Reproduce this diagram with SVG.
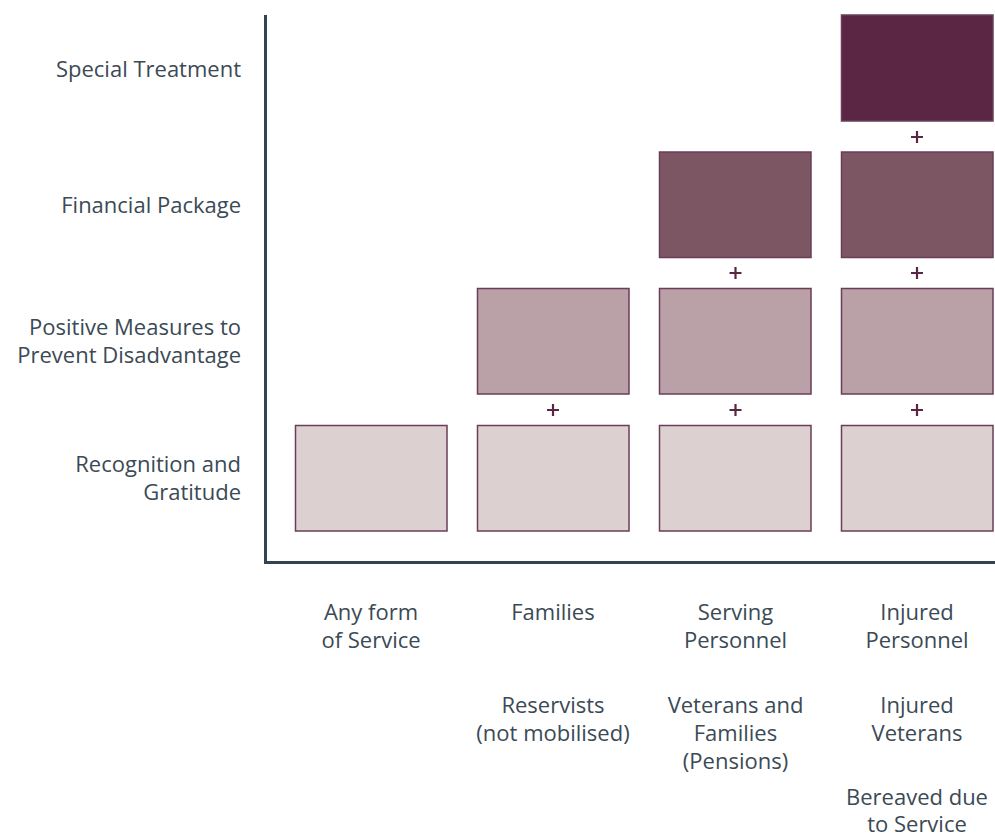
<svg xmlns="http://www.w3.org/2000/svg" width="995" height="835" viewBox="0 0 995 835">
<style>
.t{font-family:"Open Sans","Noto Sans","Liberation Sans",sans-serif;font-size:22px;fill:#3b4a55}
.l{text-anchor:end}
.c{text-anchor:middle}
.b{stroke:#6b3d58;stroke-width:1.5}
.r1{fill:#dcd0d1}
.r2{fill:#b9a1a7}
.r3{fill:#7c5763}
.r4{fill:#5a2643}
.p{stroke:#5a2643;stroke-width:2.2;fill:none}
</style>
<rect width="995" height="835" fill="#ffffff"/>
<g id="axes">
<path d="M265.5 15 V562.5 H995" fill="none" stroke="#34444f" stroke-width="3"/>
</g>
<g id="row-labels">
<text class="t l" x="241" y="77">Special Treatment</text>
<text class="t l" x="241" y="213">Financial Package</text>
<text class="t l" x="241" y="335">Positive Measures to</text>
<text class="t l" x="241" y="363">Prevent Disadvantage</text>
<text class="t l" x="241" y="472">Recognition and</text>
<text class="t l" x="241" y="500">Gratitude</text>
</g>
<g id="col-labels">
<text class="t c" x="371" y="620">Any form</text>
<text class="t c" x="371" y="648">of Service</text>
<text class="t c" x="553" y="620">Families</text>
<text class="t c" x="553" y="713">Reservists</text>
<text class="t c" x="553" y="741">(not mobilised)</text>
<text class="t c" x="735.5" y="620">Serving</text>
<text class="t c" x="735.5" y="648">Personnel</text>
<text class="t c" x="735.5" y="713">Veterans and</text>
<text class="t c" x="735.5" y="741">Families</text>
<text class="t c" x="735.5" y="769">(Pensions)</text>
<text class="t c" x="917" y="620">Injured</text>
<text class="t c" x="917" y="648">Personnel</text>
<text class="t c" x="917" y="713">Injured</text>
<text class="t c" x="917" y="741">Veterans</text>
<text class="t c" x="917" y="805">Bereaved due</text>
<text class="t c" x="917" y="832">to Service</text>
</g>
<g id="col1"><rect class="b r1" x="295.5" y="425.5" width="151.5" height="105.5"/></g>
<g id="col2">
<rect class="b r1" x="477.5" y="425.5" width="151.5" height="105.5"/>
<rect class="b r2" x="477.5" y="288.5" width="151.5" height="105.5"/>
</g>
<g id="col3">
<rect class="b r1" x="659.5" y="425.5" width="151.5" height="105.5"/>
<rect class="b r2" x="659.5" y="288.5" width="151.5" height="105.5"/>
<rect class="b r3" x="659.5" y="152" width="151.5" height="105.5"/>
</g>
<g id="col4">
<rect class="b r1" x="841.5" y="425.5" width="151.5" height="105.5"/>
<rect class="b r2" x="841.5" y="288.5" width="151.5" height="105.5"/>
<rect class="b r3" x="841.5" y="152" width="151.5" height="105.5"/>
<rect class="b r4" x="841.5" y="15" width="151.5" height="106" stroke="#5a2643"/>
</g>
<g id="plus">
<path class="p" d="M547 410h12M553 404v12M729.5 410h12M735.5 404v12M911 410h12M917 404v12M729.5 273h12M735.5 267v12M911 273h12M917 267v12M911 137h12M917 131v12"/>
</g>
</svg>
